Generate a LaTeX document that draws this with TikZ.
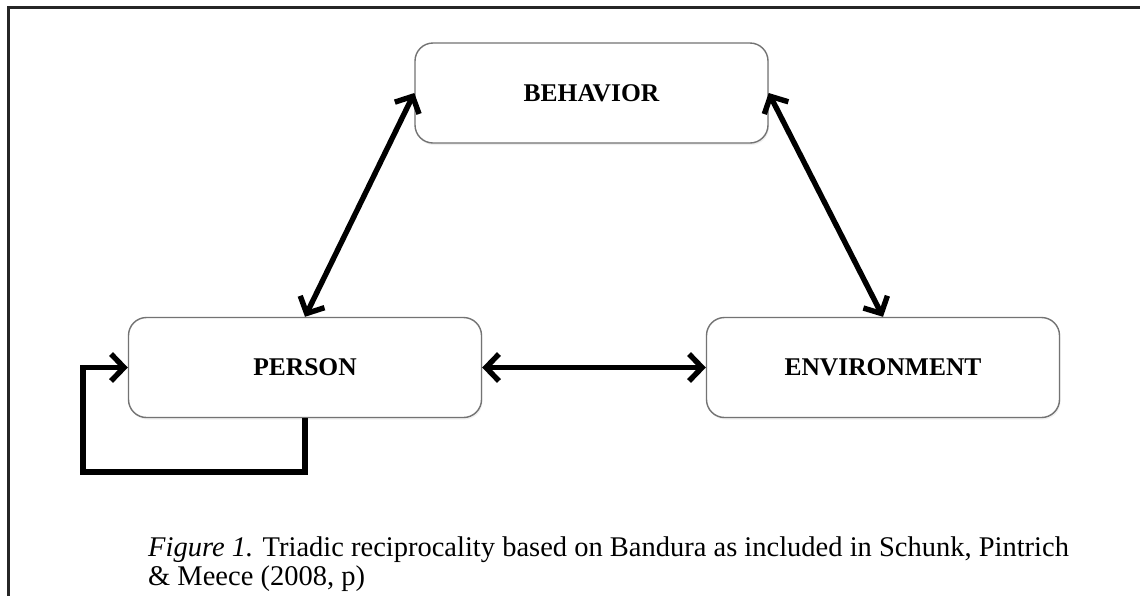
\documentclass[tikz,border=0pt]{standalone}
\usepackage{fontspec}
\setmainfont{Liberation Serif}
\usetikzlibrary{arrows.meta,shadows}
\newcommand{\factorlabel}[1]{\raisebox{-2.5pt}{#1}}
\begin{document}
\begin{tikzpicture}[x=1pt,y=-1pt,
  factor/.style={draw=black!55, line width=1.4pt, rounded corners=18pt,
    fill=white, minimum width=353pt, minimum height=100pt,
    font=\fontsize{25.5}{30}\selectfont\bfseries,
    drop shadow={opacity=0.12, shadow xshift=1pt, shadow yshift=-2pt}},
  tip/.tip={Straight Barb[length=13pt,width=27pt]},
  link/.style={line width=5.4pt, tip-tip},
  loop/.style={line width=5.4pt, -tip},
  frame/.style={line width=3pt, black!85},
  captext/.style={anchor=base west, inner sep=0pt, font=\fontsize{28.5}{34}\selectfont}]
\useasboundingbox (0,0) rectangle (1140,595);
\fill[white] (0,0) rectangle (1140,595);
% page frame: only the top and left edges fall inside the picture
\draw[frame] (1141,7) -- (8,7) -- (8,596);
% the three factors
\node[factor] (beh) at (591.5,93) {\factorlabel{BEHAVIOR}};
\node[factor] (per) at (305,367.5) {\factorlabel{PERSON}};
\node[factor] (env) at (883,367.5) {\factorlabel{ENVIRONMENT}};
% reciprocal links
\draw[link] (per.north) -- (beh.west);
\draw[link] (beh.east) -- (env.north);
\draw[link] (per.east) -- (env.west);
% self-feedback loop of the person
\coordinate (lb) at (83,472);
\draw[loop] (per.south) |- (lb) |- (per.west);
% caption
\node[captext] (cap1) at (148,556) {\textit{Figure 1.} Triadic reciprocality based on Bandura as included in Schunk, Pintrich};
\node[captext] (cap2) at (148,585) {\& Meece (2008, p)};
\end{tikzpicture}
\end{document}
